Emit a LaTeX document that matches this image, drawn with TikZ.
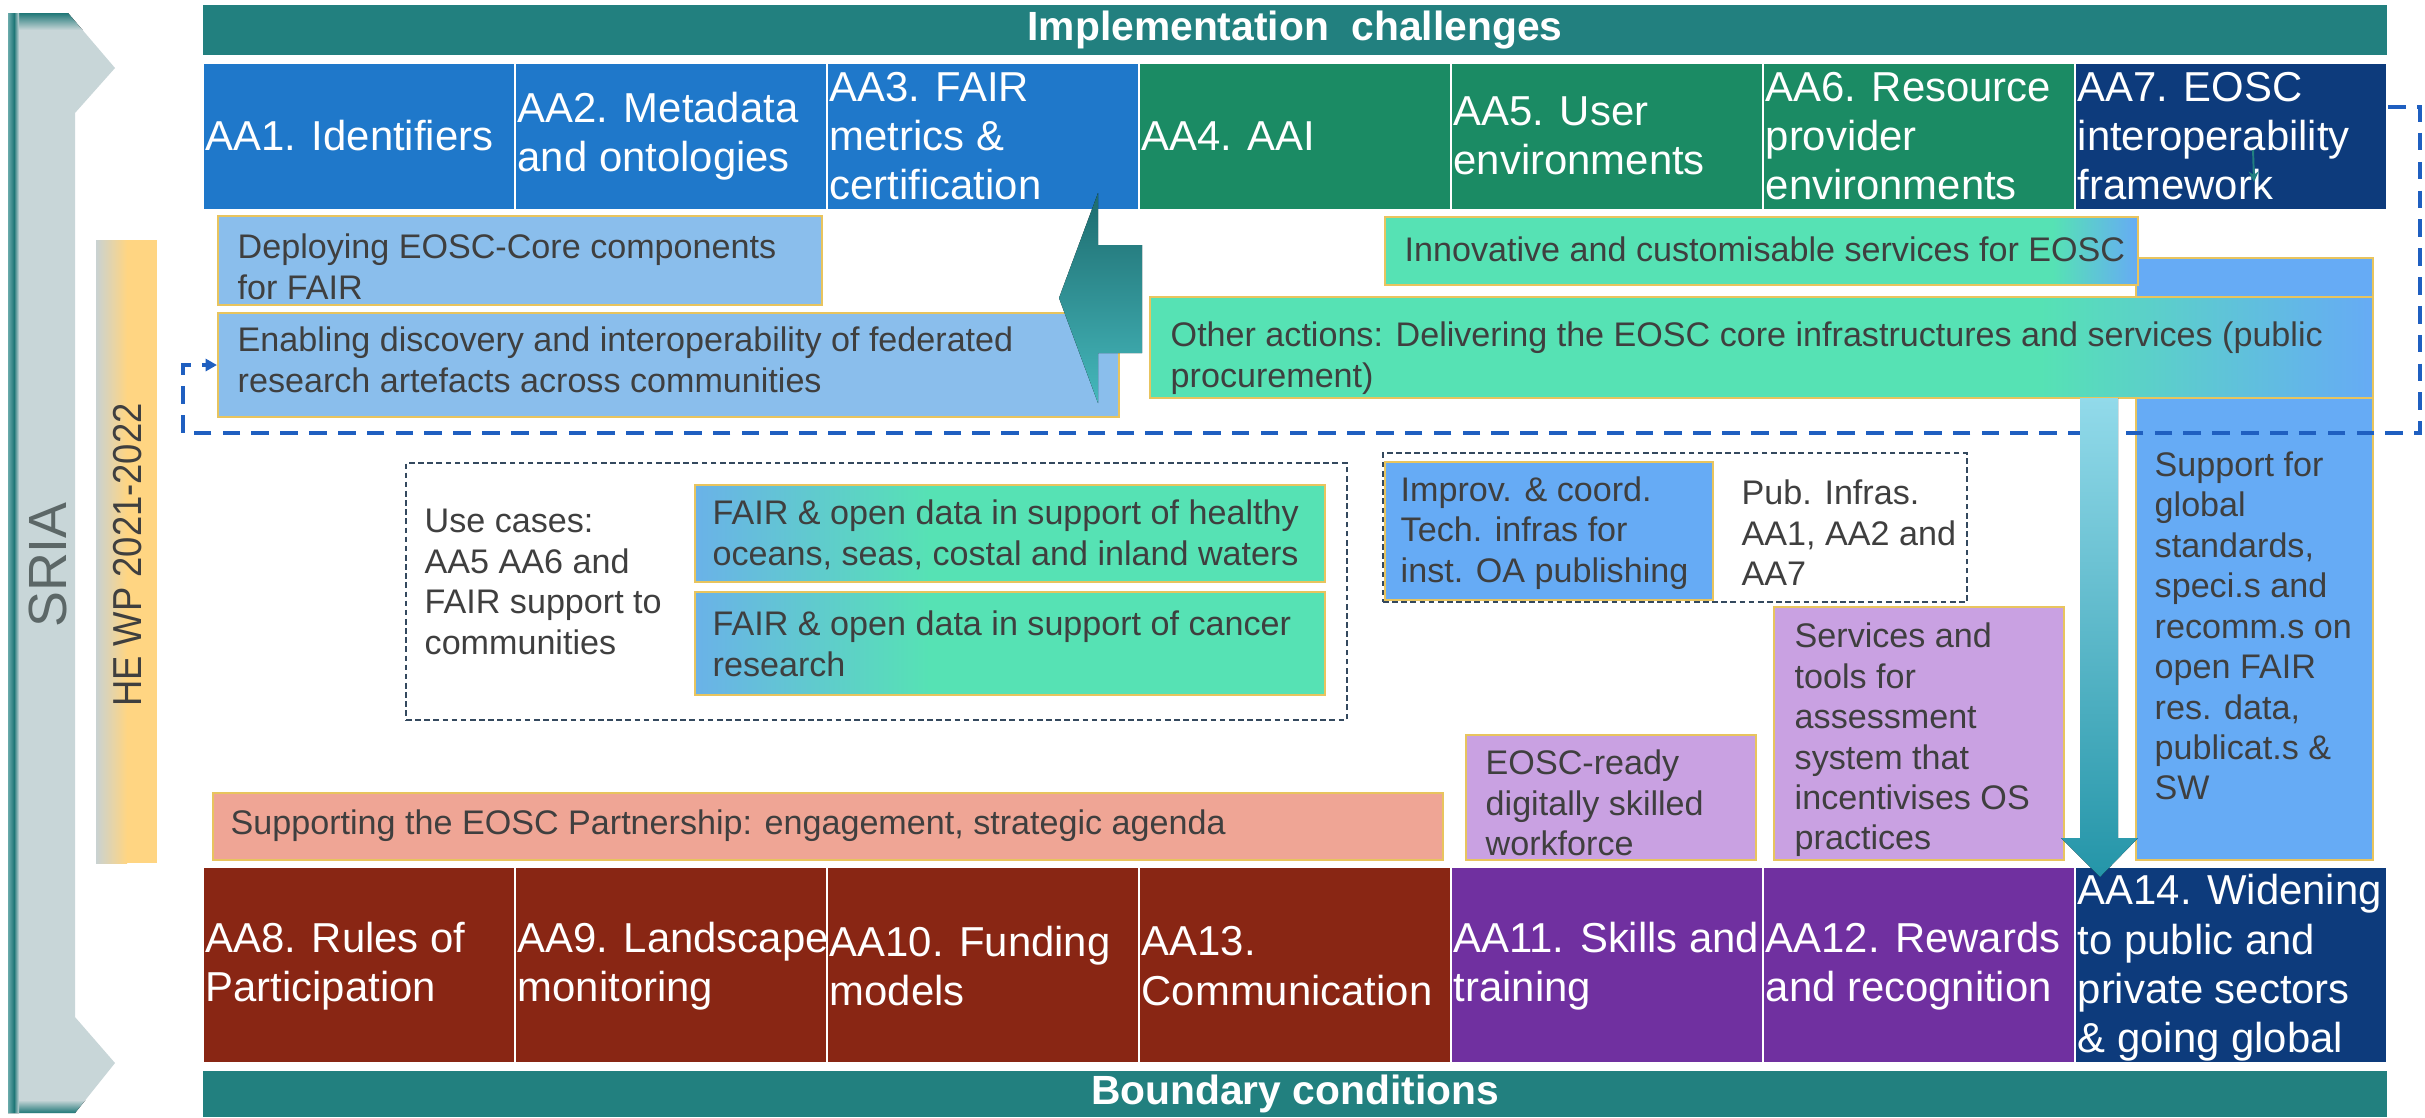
\documentclass[tikz,border=0pt]{standalone}
\usepackage{fontspec}
\setmainfont{Liberation Sans}
\newfontfamily\hefont[FakeStretch=0.9]{Liberation Sans}
\usetikzlibrary{arrows.meta,fit}
\definecolor{teal1}{HTML}{22807F}
\definecolor{aablue}{HTML}{1F78CA}
\definecolor{aagreen}{HTML}{1B8B64}
\definecolor{aanavy}{HTML}{0D3B7C}
\definecolor{aared}{HTML}{892614}
\definecolor{aapurple}{HTML}{7030A0}
\definecolor{sriagray}{HTML}{C8D6D8}
\definecolor{sriateal}{HTML}{2A8C8C}
\definecolor{sriadark}{HTML}{1F7777}
\definecolor{hegray}{HTML}{C9D2D2}
\definecolor{heorange}{HTML}{FFD582}
\definecolor{goldb}{HTML}{E8C45E}
\definecolor{ltblue}{HTML}{8ABEEC}
\definecolor{mint}{HTML}{56E2B4}
\definecolor{midblue}{HTML}{66ABF5}
\definecolor{ocblue}{HTML}{6AB2E8}
\definecolor{lav}{HTML}{C9A1E2}
\definecolor{salmon}{HTML}{EFA595}
\definecolor{txtgray}{HTML}{3F3F3F}
\definecolor{dashblue}{HTML}{1F5FC0}
\definecolor{slate}{HTML}{34495E}
\definecolor{arrdark}{HTML}{1D6B6E}
\definecolor{arrlight}{HTML}{45B8BC}
\definecolor{varrtop}{HTML}{92DAEA}
\definecolor{varrbot}{HTML}{2495A8}
\definecolor{sriatext}{HTML}{5C6767}
\begin{document}
\begin{tikzpicture}[x=0.01cm,y=-0.01cm,
  aabox/.style={draw=white,line width=0.7pt,inner sep=0pt},
  aatext/.style={anchor=west,align=left,text=white,inner sep=0pt,font=\fontsize{11.9}{14}\selectfont},
  midbox/.style={draw=goldb,line width=0.6pt,inner sep=0pt},
  midtext/.style={anchor=west,align=left,text=txtgray,inner sep=0pt,font=\fontsize{9.7}{11.5}\selectfont},
  bar/.style={fill=teal1,inner sep=0pt},
  bartext/.style={text=white,inner sep=0pt,font=\bfseries\fontsize{11.6}{13}\selectfont},
  dashconn/.style={draw=dashblue,line width=1.15pt,dash pattern=on 5pt off 3.2pt},
  thindash/.style={draw=slate,line width=0.4pt,dash pattern=on 1.6pt off 1pt,inner sep=0pt},
]
\useasboundingbox (0,0) rectangle (2425,1117);
\fill[white] (0,0) rectangle (2425,1117);

% SRIA bar
\begin{scope}
\clip (8,13) -- (68,13) -- (115,68) -- (75,113) -- (75,1017) -- (115,1063) -- (75,1113) -- (8,1113) -- cycle;
\fill[sriagray] (0,0) rectangle (130,1117);
\fill[top color=sriadark,bottom color=sriagray] (0,13) rectangle (130,30);
\fill[top color=sriagray,bottom color=sriadark] (0,1100) rectangle (130,1113);
\fill[left color=sriateal!60!sriagray,right color=sriadark] (8,0) rectangle (14,1117);
\fill[left color=sriadark,right color=sriagray] (14,0) rectangle (19,1117);
\end{scope}
\node[rotate=90,text=sriatext,font=\fontsize{15.3}{16}\selectfont,inner sep=0pt] (sria) at (48,565) {SRIA};

% HE WP bar
\fill[left color=hegray,right color=heorange] (96,240) rectangle (127,863);
\fill[heorange] (127,240) rectangle (157,863);
\node[rotate=90,text=txtgray,font=\hefont\fontsize{11.5}{12}\selectfont,inner sep=0pt] (hewp) at (128,555) {HE WP 2021-2022};

% top bar
\node[bar,fit={(203,5) (2387,55)}] (impl) {};
\node[bartext] (implt) at (impl.center) {Implementation\ \ challenges};

% AA top row
\node[aabox,fill=aablue,fit={(203,63) (515,210)}] (aa1) {};
\node[aabox,fill=aablue,fit={(515,63) (827,210)}] (aa2) {};
\node[aabox,fill=aablue,fit={(827,63) (1139,210)}] (aa3) {};
\node[aabox,fill=aagreen,fit={(1139,63) (1451,210)}] (aa4) {};
\node[aabox,fill=aagreen,fit={(1451,63) (1763,210)}] (aa5) {};
\node[aabox,fill=aagreen,fit={(1763,63) (2075,210)}] (aa6) {};
\node[aabox,fill=aanavy,fit={(2075,63) (2387,210)}] (aa7) {};
\node[aatext] (aa1t) at (205,136) {AA1. Identifiers};
\node[aatext] (aa2t) at (517,136) {AA2. Metadata\\and ontologies};
\node[aatext] (aa3t) at (829,136) {AA3. FAIR\\metrics \&\\certification};
\node[aatext] (aa4t) at (1141,136) {AA4. AAI};
\node[aatext] (aa5t) at (1453,136) {AA5. User\\environments};
\node[aatext] (aa6t) at (1765,136) {AA6. Resource\\provider\\environments};
\node[aatext] (aa7t) at (2077,136) {AA7. EOSC\\interoperability\\framework};
\coordinate (sa1) at (2253,150);
\coordinate (sa2) at (2254,182);
\draw[teal1,line width=0.55pt,-{Stealth[length=3pt,width=2.8pt]}] (sa1) -- (sa2);

% AA bottom row
\node[aabox,fill=aared,fit={(203,867) (515,1063)}] (aa8) {};
\node[aabox,fill=aared,fit={(515,867) (827,1063)}] (aa9) {};
\node[aabox,fill=aared,fit={(827,867) (1139,1063)}] (aa10) {};
\node[aabox,fill=aared,fit={(1139,867) (1451,1063)}] (aa13) {};
\node[aabox,fill=aapurple,fit={(1451,867) (1763,1063)}] (aa11) {};
\node[aabox,fill=aapurple,fit={(1763,867) (2075,1063)}] (aa12) {};
\node[aabox,fill=aanavy,fit={(2075,867) (2387,1063)}] (aa14) {};
\node[aatext] (aa8t) at (205,966) {AA8. Rules of\\Participation};
\node[aatext] (aa9t) at (517,966) {AA9. Landscape\\monitoring};
\node[aatext] (aa10t) at (829,966) {AA10. Funding\\models};
\node[aatext] (aa13t) at (1141,966) {AA13.\\Communication};
\node[aatext] (aa11t) at (1453,966) {AA11. Skills and\\training};
\node[aatext] (aa12t) at (1765,966) {AA12. Rewards\\and recognition};
\node[aatext] (aa14t) at (2077,968) {AA14. Widening\\to public and\\private sectors\\\& going global};

% bottom bar
\node[bar,fit={(203,1071) (2387,1117)}] (bound) {};
\node[bartext] (boundt) at (1295,1094) {Boundary conditions};

% middle boxes
\node[midbox,fill=ltblue,fit={(218,216) (822,305)}] (deploy) {};
\node[midtext] (deployt) at (237,267) {Deploying EOSC-Core components\\for FAIR};
\node[midbox,fill=ltblue,fit={(218,313) (1119,417)}] (enab) {};
\node[midtext] (enabt) at (237,360) {Enabling discovery and interoperability of federated\\research artefacts across communities};

\node[midbox,fill=midblue,fit={(2136,258) (2373,860)}] (support) {};
\node[midtext] (supportt) at (2154,626) {Support for\\global\\standards,\\speci.s and\\recomm.s on\\open FAIR\\res. data,\\publicat.s \&\\SW};

\fill[mint] (1385,217) rectangle (2053,285);
\fill[left color=mint,right color=midblue] (2053,217) rectangle (2138,285);
\node[midbox,fit={(1385,217) (2138,285)}] (innov) {};
\node[midtext] (innovt) at (1404,249) {Innovative and customisable services for EOSC};

\fill[mint] (1150,297) rectangle (2040,398);
\fill[left color=mint,right color=midblue] (2040,297) rectangle (2373,398);
\node[midbox,fit={(1150,297) (2373,398)}] (other) {};
\node[midtext] (othert) at (1170,358) {Other actions: Delivering the EOSC core infrastructures and services (public\\procurement)};

% use cases
\node[thindash,draw,fit={(406,463) (1347,720)}] (usebox) {};
\node[midtext] (uset) at (424,582) {Use cases:\\AA5 AA6 and\\FAIR support to\\communities};
\fill[left color=ocblue,right color=mint] (695,485) rectangle (930,582);
\fill[mint] (930,485) rectangle (1325,582);
\node[midbox,fit={(695,485) (1325,582)}] (ocean) {};
\node[midtext] (oceant) at (712,535) {FAIR \& open data in support of healthy\\oceans, seas, costal and inland waters};
\fill[left color=ocblue,right color=mint] (695,592) rectangle (930,695);
\fill[mint] (930,592) rectangle (1325,695);
\node[midbox,fit={(695,592) (1325,695)}] (cancer) {};
\node[midtext] (cancert) at (712,644) {FAIR \& open data in support of cancer\\research};

% publishing
\node[thindash,draw,fit={(1383,453) (1967,602)}] (pubbox) {};
\node[midbox,fill=midblue,fit={(1385,462) (1713,600)}] (improv) {};
\node[midtext] (improvt) at (1400,533) {Improv. \& coord.\\Tech. infras for\\inst. OA publishing};
\node[midtext] (pubt) at (1741,533) {Pub. Infras.\\AA1, AA2 and\\AA7};

% purple and salmon boxes
\node[midbox,fill=lav,fit={(1774,607) (2064,860)}] (serv) {};
\node[midtext] (servt) at (1794,740) {Services and\\tools for\\assessment\\system that\\incentivises OS\\practices};
\node[midbox,fill=lav,fit={(1466,735) (1756,860)}] (eosc) {};
\node[midtext] (eosct) at (1485,803) {EOSC-ready\\digitally skilled\\workforce};
\node[midbox,fill=salmon,fit={(213,793) (1443,860)}] (suppeosc) {};
\node[midtext] (suppeosct) at (230,826) {Supporting the EOSC Partnership: engagement, strategic agenda};

% dashed connector
\coordinate (y107) at (0,107);
\coordinate (y365) at (0,365);
\coordinate (d1) at (2420,107);
\coordinate (d2) at (2420,433);
\coordinate (d3) at (183,433);
\coordinate (d4) at (183,365);
\draw[dashconn,-{Triangle[length=3.2pt,width=3.4pt]}] (aa7.east |- y107) -- (d1) -- (d2) -- (d3) -- (d4) -- (enab.west |- y365);

% big arrows
\fill[top color=arrdark,bottom color=arrlight] (1142,245) -- (1098,245) -- (1098,193) -- (1059,298) -- (1098,403) -- (1098,353) -- (1142,353) -- cycle;
\fill[top color=varrtop,bottom color=varrbot] (2080,398) -- (2118,398) -- (2118,838) -- (2138,838) -- (2100,877) -- (2061,838) -- (2080,838) -- cycle;
\end{tikzpicture}
\end{document}
